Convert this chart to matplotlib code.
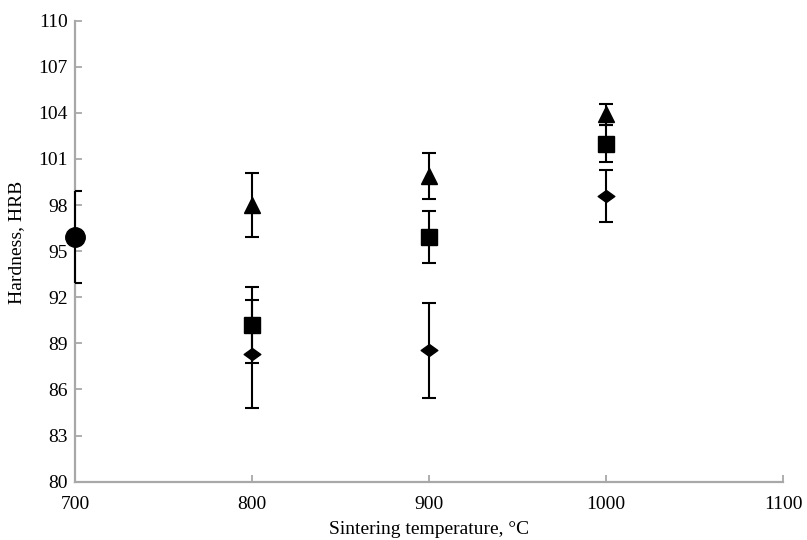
import numpy as np
import matplotlib.pyplot as plt
from matplotlib.path import Path

# Werte (Mittelwert und halbe Fehlerbalkenlänge)
temp_circle = [700]
hard_circle = [95.9]
err_circle = [3.0]

temp = [800, 900, 1000]
hard_triangle = [98.0, 99.9, 103.9]
err_triangle = [2.1, 1.5, 0.66]
hard_square = [90.2, 95.9, 102.0]
err_square = [2.5, 1.7, 1.2]
hard_diamond = [88.3, 88.55, 98.6]
err_diamond = [3.5, 3.1, 1.68]

x_ticks = [700, 800, 900, 1000, 1100]
y_ticks = [80, 83, 86, 89, 92, 95, 98, 101, 104, 107, 110]

plt.rcParams['font.family'] = ['Liberation Serif', 'DejaVu Serif']

# flache Raute als Marker
diamond = Path([(-1, 0), (0, 0.72), (1, 0), (0, -0.72), (-1, 0)],
               [Path.MOVETO, Path.LINETO, Path.LINETO, Path.LINETO, Path.CLOSEPOLY])

fig = plt.figure(figsize=(8.07, 5.40), dpi=100)
ax = fig.add_axes([0.0929, 0.108, 0.8777, 0.8537])

common = dict(ecolor='black', elinewidth=1.5, capsize=5, capthick=1.5,
              linestyle='none', color='black')

# Punkt bei 700 °C: Marker über der Achse, Kappen nur innen sichtbar
circ = ax.errorbar(temp_circle, hard_circle, yerr=err_circle, marker='o', markersize=14,
                   zorder=5, **common)
circ[0].set_clip_on(False)
for bar in circ[2]:
    bar.set_clip_on(False)

ax.errorbar(temp, hard_triangle, yerr=err_triangle, marker='^', markersize=12, **common)
ax.errorbar(temp, hard_square, yerr=err_square, marker='s', markersize=11, **common)
ax.errorbar(temp, hard_diamond, yerr=err_diamond, marker=diamond, markersize=12, **common)

ax.set_xlim(700, 1100)
ax.set_ylim(80, 110)
ax.set_xticks(x_ticks)
ax.set_yticks(y_ticks)

grey = '#a8a8a8'
for side in ['top', 'right']:
    ax.spines[side].set_visible(False)
for side in ['left', 'bottom']:
    ax.spines[side].set_color(grey)
    ax.spines[side].set_linewidth(1.6)
    ax.spines[side].set_zorder(1)
ax.tick_params(direction='in', length=5, width=1.3, color=grey, labelsize=14)
ax.tick_params(axis='x', pad=10)
ax.tick_params(axis='y', pad=5)

ax.set_xlabel('Sintering temperature, °C', fontsize=14, labelpad=6)
ax.set_ylabel('Hardness, HRB', fontsize=14)
ax.yaxis.set_label_coords(-0.0706, 0.52)

fig.savefig('out.png', dpi=100)
